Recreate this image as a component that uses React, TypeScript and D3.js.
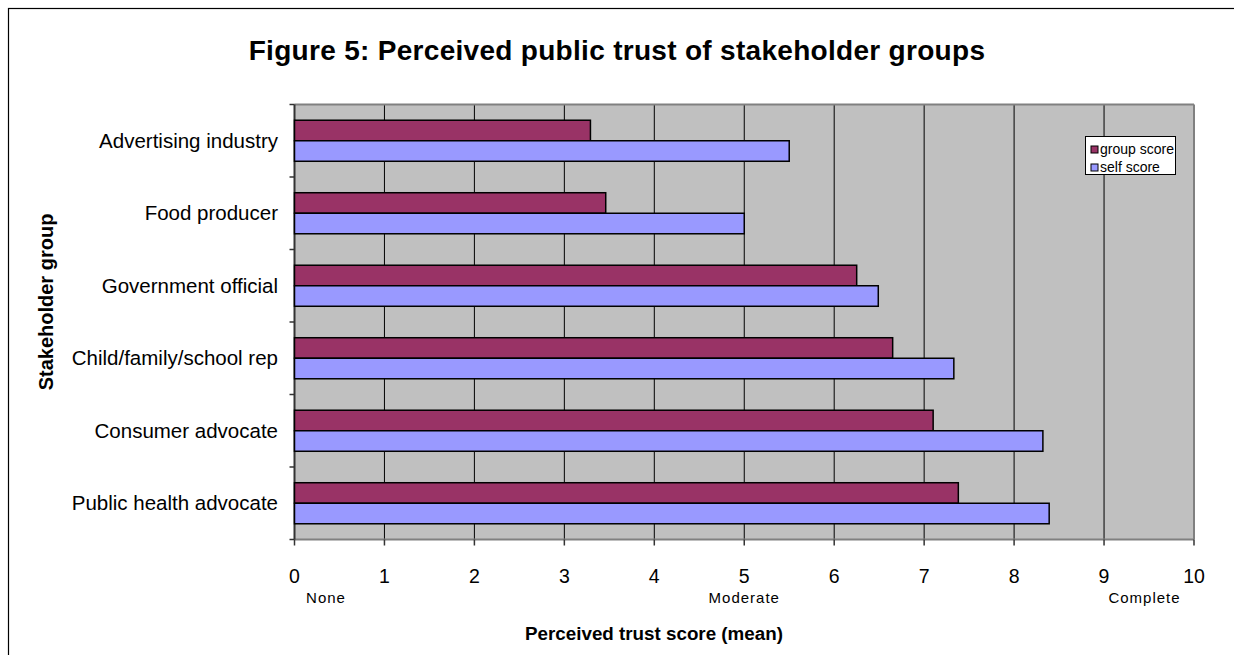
import React from "react";
import * as d3 from "d3";

const categories = [
  "Advertising industry",
  "Food producer",
  "Government official",
  "Child/family/school rep",
  "Consumer advocate",
  "Public health advocate",
];
const groupScore = [3.29, 3.46, 6.25, 6.65, 7.1, 7.38];
const selfScore = [5.5, 5.0, 6.49, 7.33, 8.32, 8.39];
const seriesNames = ["group score", "self score"];
const seriesColors = ["#993366", "#9999FF"];
const xTicks = [0, 1, 2, 3, 4, 5, 6, 7, 8, 9, 10];
const anchorLabels = [
  { v: 0.35, label: "None" },
  { v: 5.0, label: "Moderate" },
  { v: 9.45, label: "Complete" },
];

const W = 1234;
const H = 655;
const left = 294.5;
const right = 1194;
const top = 104.5;
const bottom = 539.5;
const FONT = "Arial, 'Liberation Sans', Helvetica, sans-serif";

export default function App() {
  const x = d3.scaleLinear().domain([0, 10]).range([left, right]);
  const y = d3.scaleBand<string>().domain(categories).range([top, bottom]).paddingInner(0).paddingOuter(0);
  const bw = y.bandwidth();
  const barH = bw * 0.283;
  const series = [groupScore, selfScore];

  return (
    <svg
      width={W}
      height={H}
      style={{ position: "absolute", left: 0, top: 0, background: "#fff" }}
      fontFamily={FONT}
    >
      <rect x={8.5} y={8.5} width={W + 20} height={H + 20} fill="#fff" stroke="#000" strokeWidth={1.2} />
      <text x={617} y={60} textAnchor="middle" fontSize={28} fontWeight="bold" fill="#000" letterSpacing={0.3}>
        Figure 5: Perceived public trust of stakeholder groups
      </text>

      {/* plot area */}
      <rect x={left} y={top} width={right - left} height={bottom - top} fill="#C0C0C0" />
      {xTicks.slice(1, -1).map((t) => (
        <line key={"g" + t} x1={x(t)} x2={x(t)} y1={top} y2={bottom} stroke="#000" strokeWidth={1} />
      ))}
      <line x1={left} x2={right} y1={top} y2={top} stroke="#808080" strokeWidth={2} />
      <line x1={right} x2={right} y1={top} y2={bottom} stroke="#808080" strokeWidth={2} />
      <line x1={left} x2={right} y1={bottom} y2={bottom} stroke="#808080" strokeWidth={2} />
      <line x1={left} x2={left} y1={top} y2={bottom} stroke="#333" strokeWidth={2} />

      {/* bars */}
      {categories.map((c, i) =>
        series.map((s, k) => {
          const yc = (y(c) as number) + bw / 2;
          const y0 = yc - barH + k * barH;
          return (
            <rect
              key={c + k}
              x={x(0)}
              y={y0}
              width={x(s[i]) - x(0)}
              height={barH}
              fill={seriesColors[k]}
              stroke="#000"
              strokeWidth={1.5}
            />
          );
        })
      )}

      {/* y ticks */}
      {categories.map((c, i) => (
        <line key={"yt" + i} x1={left - 5} x2={left} y1={y(c) as number} y2={y(c) as number} stroke="#333" strokeWidth={1.5} />
      ))}
      <line x1={left - 5} x2={left} y1={bottom} y2={bottom} stroke="#333" strokeWidth={1.5} />
      {categories.map((c) => (
        <text key={"yl" + c} x={278} y={(y(c) as number) + bw / 2 + 7} textAnchor="end" fontSize={20.5} fill="#000">
          {c}
        </text>
      ))}

      {/* x ticks */}
      {xTicks.map((t) => (
        <g key={"xt" + t}>
          <line x1={x(t)} x2={x(t)} y1={bottom} y2={bottom + 6} stroke="#333" strokeWidth={1.5} />
          <text x={x(t)} y={583} textAnchor="middle" fontSize={19.5} fill="#000">
            {t}
          </text>
        </g>
      ))}
      {anchorLabels.map((a) => (
        <text key={a.label} x={x(a.v)} y={603} textAnchor="middle" fontSize={15} letterSpacing={1} fill="#000">
          {a.label}
        </text>
      ))}

      <text x={654} y={640} textAnchor="middle" fontSize={18.8} fontWeight="bold" fill="#000">
        Perceived trust score (mean)
      </text>
      <text
        transform={`translate(53, 302) rotate(-90)`}
        textAnchor="middle"
        fontSize={20}
        fontWeight="bold"
        fill="#000"
      >
        Stakeholder group
      </text>

      {/* legend */}
      <g>
        <rect x={1085.5} y={136.5} width={90} height={38} fill="#fff" stroke="#000" strokeWidth={1} />
        {seriesNames.map((n, k) => (
          <g key={n}>
            <rect x={1091} y={146 + k * 18} width={7} height={7} fill={seriesColors[k]} stroke="#000" strokeWidth={1} />
            <text x={1100} y={154 + k * 18} fontSize={14} fill="#000">
              {n}
            </text>
          </g>
        ))}
      </g>
    </svg>
  );
}
